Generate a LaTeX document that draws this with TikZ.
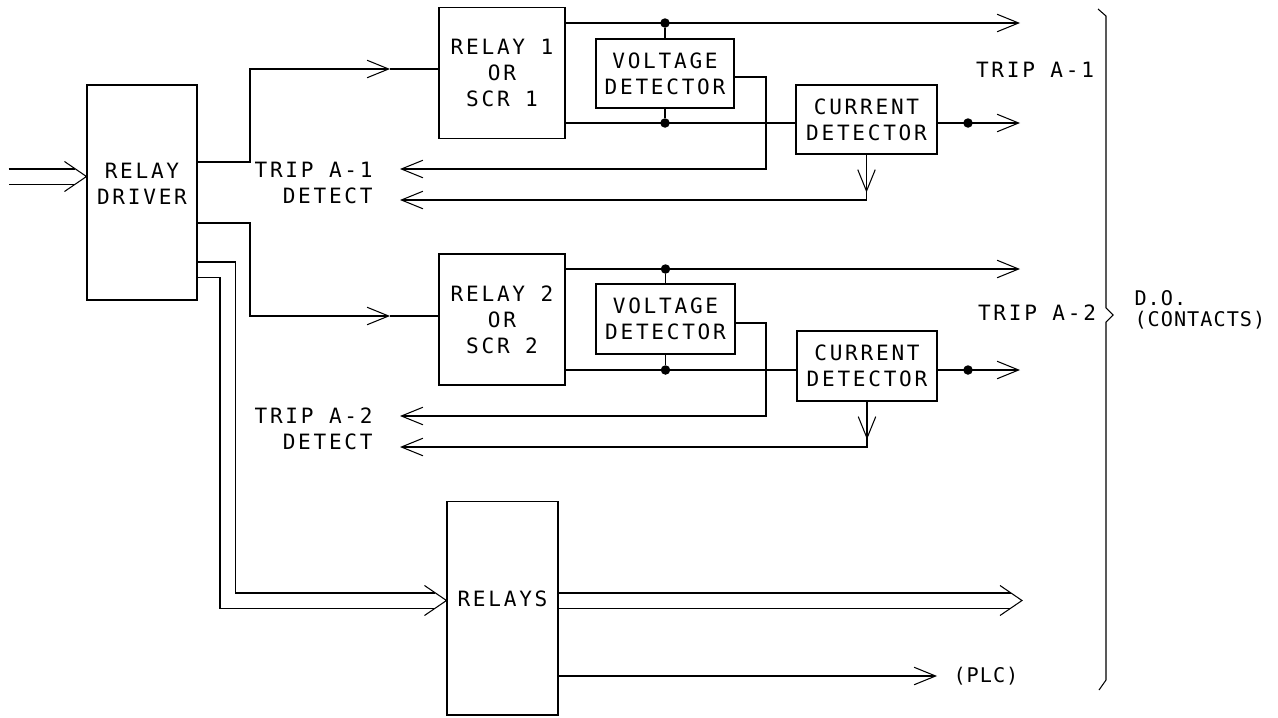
\documentclass[tikz,border=0pt]{standalone}
\usepackage{fontspec}
\newfontfamily\plotfont[LetterSpace=13]{DejaVu Sans Mono}
\newfontfamily\plotsmall[LetterSpace=5]{DejaVu Sans Mono}
\usetikzlibrary{arrows.meta}

\begin{document}
\begin{tikzpicture}[
    x=0.02cm, y=-0.02cm,
    line width=0.6pt,
    every node/.style={font=\plotfont\fontsize{12}{14.7}\selectfont},
    block/.style={
        draw,
        rectangle,
        align=center,
        inner sep=0pt,
    },
    dot/.style={circle, fill, inner sep=0pt, minimum size=0.19cm},
    sig/.style={-{Straight Barb[length=0.43cm, width=0.35cm]}},
    dbl/.style={double, double distance=0.28cm, shorten <=0.4pt, shorten >=0.22cm},
    chev/.style={insert path={++(-22,-15) -- ++(22,15) -- ++(-22,15)}},
    small/.style={font=\plotsmall\fontsize{11.5}{12}\selectfont, inner sep=0pt}
]
\useasboundingbox (0,0) rectangle (1278,717);

\node[block, minimum width=2.2cm, minimum height=4.3cm, text depth=0.36cm] (RD) at (142,192.5) {RELAY\\DRIVER};
\node[block, minimum width=2.52cm, minimum height=2.61cm] (R1) at (502,73) {RELAY 1\\OR\\SCR 1};
\node[block, minimum width=2.52cm, minimum height=2.62cm] (R2) at (502,319.5) {RELAY 2\\OR\\SCR 2};
\node[block, minimum width=2.76cm, minimum height=1.38cm] (VD1) at (665,73.5) {VOLTAGE\\DETECTOR};
\node[block, minimum width=2.78cm, minimum height=1.4cm] (VD2) at (665.5,319) {VOLTAGE\\DETECTOR};
\node[block, minimum width=2.82cm, minimum height=1.38cm] (CD1) at (866.5,119.5) {CURRENT\\DETECTOR};
\node[block, minimum width=2.8cm, minimum height=1.4cm] (CD2) at (867,366) {CURRENT\\DETECTOR};
\node[block, minimum width=2.22cm, minimum height=4.28cm, text depth=0.36cm] (RLS) at (502.5,608) {RELAYS};

% junctions
\node[dot] (j1) at (VD1.north |- 0,23) {};
\node[dot] (j2) at (VD1.south |- 0,123) {};
\node[dot] (j3) at (VD2.north |- 0,269) {};
\node[dot] (j4) at (VD2.south |- 0,370) {};
\node[dot] (k1) at (968,123) {};
\node[dot] (k2) at (968,370) {};

% free ends
\coordinate (in) at (8,176.5);
\coordinate (a1) at (390,69);
\coordinate (a2) at (390,316);
\coordinate (o1) at (1020,23);
\coordinate (o2) at (1020,123);
\coordinate (o3) at (1020,269);
\coordinate (o4) at (1020,370);
\coordinate (o5) at (1022,600.5);
\coordinate (plc) at (937,676);
\coordinate (d1) at (400,169);
\coordinate (d2) at (400,200);
\coordinate (d3) at (400,416);
\coordinate (d4) at (400,447);

% labels
\node[align=right, anchor=east] (t1) at (379,183) {TRIP A-1\\DETECT};
\node[align=right, anchor=east] (t2) at (379,429) {TRIP A-2\\DETECT};
\node (trip1) at (1035,70) {TRIP A-1};
\node (trip2) at (1037,313) {TRIP A-2};
\node[small, align=left, anchor=west] (do) at (1134,310) {D.O.\\(CONTACTS)};
\node[small, anchor=west] (plcl) at (953,676) {(PLC)};

% input and driver outputs
\draw[dbl] (in) -- (RD.west |- in);
\draw (RD.west |- in) [chev];
\draw[sig] (RD.east |- 0,162) -| (250,69) -- (a1);
\draw (a1) -- (R1.west |- a1);
\draw[sig] (RD.east |- 0,223) -| (250,316) -- (a2);
\draw (a2) -- (R2.west |- a2);
\draw[dbl] (RD.east |- 0,269.5) -| (227.5,600.5) -- (RLS.west |- 0,600.5);
\draw (RLS.west |- 0,600.5) [chev];

% trip A-1
\draw[sig] (R1.east |- o1) -- (o1);
\draw (j1) -- (VD1);
\draw (R1.east |- o2) -- (CD1.west |- o2);
\draw (j2) -- (VD1);
\draw[sig] (VD1.east |- 0,77) -| (766,169) -- (d1);
\draw[sig] (CD1.east |- o2) -- (o2);
\draw[sig] (CD1.south) -- ++(0,38);
\draw[sig] (CD1.south) |- (d2);

% trip A-2
\draw[sig] (R2.east |- o3) -- (o3);
\draw (j3) -- (VD2);
\draw (R2.east |- o4) -- (CD2.west |- o4);
\draw (j4) -- (VD2);
\draw[sig] (VD2.east |- 0,323) -| (766,416) -- (d3);
\draw[sig] (CD2.east |- o4) -- (o4);
\draw[sig] (CD2.south) -- ++(0,38);
\draw[sig] (CD2.south) |- (d4);

% relays
\draw[dbl] (RLS.east |- o5) -- (o5);
\draw (o5) [chev];
\draw[sig] (RLS.east |- plc) -- (plc);

% brace
\draw (1098,9) -- (1106,16) -- (1106,308) -- (1113,315) -- (1106,322) -- (1106,680) -- (1099,690);
\end{tikzpicture}
\end{document}
